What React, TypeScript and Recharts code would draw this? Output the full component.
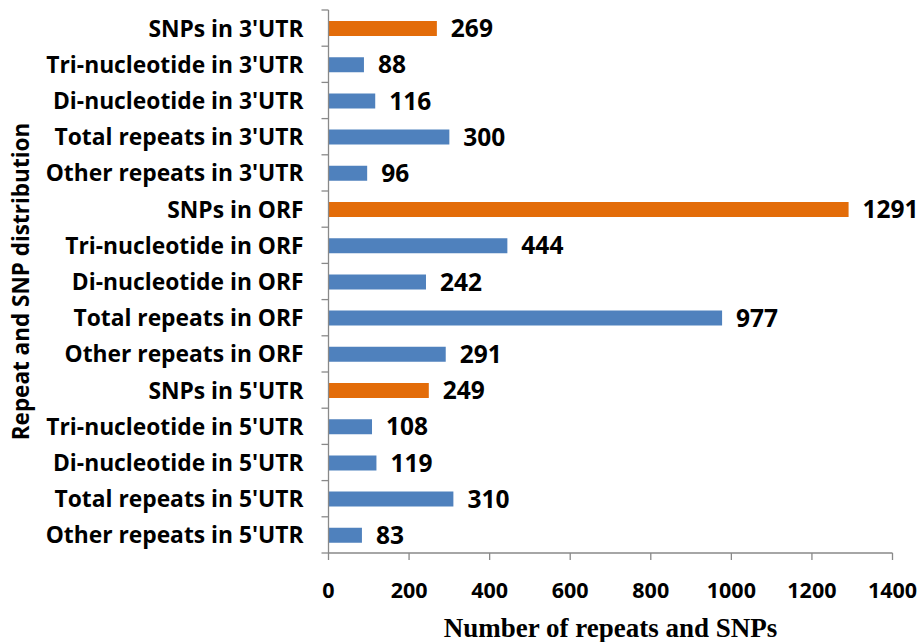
import React from "react";
import { BarChart, Bar, XAxis, YAxis, Cell, LabelList, Label } from "recharts";

const categories = [
  "SNPs in 3'UTR",
  "Tri-nucleotide in 3'UTR",
  "Di-nucleotide in 3'UTR",
  "Total repeats in 3'UTR",
  "Other repeats in 3'UTR",
  "SNPs in ORF",
  "Tri-nucleotide in ORF",
  "Di-nucleotide in ORF",
  "Total repeats in ORF",
  "Other repeats in ORF",
  "SNPs in 5'UTR",
  "Tri-nucleotide in 5'UTR",
  "Di-nucleotide in 5'UTR",
  "Total repeats in 5'UTR",
  "Other repeats in 5'UTR",
];
const values = [269, 88, 116, 300, 96, 1291, 444, 242, 977, 291, 249, 108, 119, 310, 83];
const xTicks = [0, 200, 400, 600, 800, 1000, 1200, 1400];

const data = categories.map((name, i) => ({ name, value: values[i] }));

const BLUE = "#4F81BD";
const ORANGE = "#E36C09";
const AXIS = "#898989";
const FONT = "'Open Sans', 'Noto Sans', sans-serif";

const W = 922;
const H = 642;
const TOP = 10;
const BOTTOM_Y = 553;
const BAND = (BOTTOM_Y - TOP) / categories.length;
const TICK_SIZE = 7;
const TICK_MARGIN = 18;

const YTick = (props: any) => {
  const { x, y, payload, index } = props;
  const ax = x + TICK_SIZE + TICK_MARGIN;
  return (
    <g>
      <text
        x={x}
        y={y}
        textAnchor="end"
        dominantBaseline="central"
        fontFamily={FONT}
        fontWeight="bold"
        fontSize={22.8}
        fill="#000"
      >
        {payload.value}
      </text>
      <line x1={ax - TICK_SIZE} x2={ax} y1={y - BAND / 2} y2={y - BAND / 2} stroke={AXIS} strokeWidth={1.3} />
      {index === categories.length - 1 ? (
        <line x1={ax - TICK_SIZE} x2={ax} y1={y + BAND / 2} y2={y + BAND / 2} stroke={AXIS} strokeWidth={1.3} />
      ) : null}
    </g>
  );
};

export default function App() {
  return (
    <div style={{ position: "absolute", left: 0, top: 0, background: "#fff" }}>
      <BarChart
        width={W}
        height={H}
        data={data}
        layout="vertical"
        margin={{ top: TOP, right: 29.5, bottom: 19, left: 0 }}
        barCategoryGap={0}
      >
        <XAxis
          type="number"
          domain={[0, 1400]}
          ticks={xTicks}
          interval={0}
          tickSize={TICK_SIZE}
          tickMargin={23}
          height={70}
          axisLine={{ stroke: AXIS, strokeWidth: 1.3 }}
          tickLine={{ stroke: AXIS, strokeWidth: 1.3 }}
          tick={{ fill: "#000", fontSize: 21.5, fontWeight: "bold", fontFamily: FONT }}
        >
          <Label
            value="Number of repeats and SNPs"
            position="insideBottom"
            offset={-14}
            style={{ fill: "#000", fontSize: 27, fontWeight: "bold", fontFamily: "'Liberation Serif', 'Times New Roman', serif" }}
          />
        </XAxis>
        <YAxis
          type="category"
          dataKey="name"
          width={328.5}
          interval={0}
          tickSize={TICK_SIZE}
          tickMargin={TICK_MARGIN}
          tickLine={false}
          axisLine={{ stroke: AXIS, strokeWidth: 1.3 }}
          tick={<YTick />}
        >
          <Label
            value="Repeat and SNP distribution"
            angle={-90}
            position="insideLeft"
            offset={21}
            style={{ textAnchor: "middle", fill: "#000", fontSize: 22.5, fontWeight: "bold", fontFamily: FONT }}
          />
        </YAxis>
        <Bar dataKey="value" barSize={15} isAnimationActive={false}>
          {data.map((d, i) => (
            <Cell key={i} fill={d.name.startsWith("SNPs") ? ORANGE : BLUE} />
          ))}
          <LabelList
            dataKey="value"
            position="right"
            offset={14}
            style={{ fill: "#000", fontSize: 24.5, fontWeight: "bold", fontFamily: FONT }}
          />
        </Bar>
      </BarChart>
    </div>
  );
}
